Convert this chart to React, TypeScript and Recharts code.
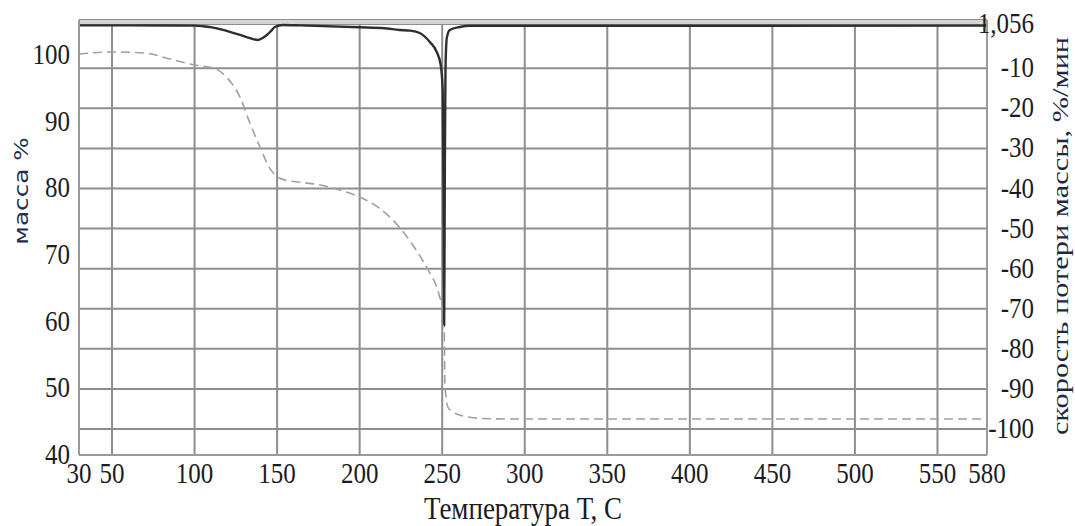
import React from "react";
import { ComposedChart, Line, XAxis, YAxis, CartesianGrid, ReferenceArea, Label } from "recharts";

// Temperature axis ticks (°C)
const tempTicks = [30, 50, 100, 150, 200, 250, 300, 350, 400, 450, 500, 550, 580];
// Left axis: mass %
const massTicks = [40, 50, 60, 70, 80, 90, 100];
// Right axis: rate of mass loss, %/min
const rateTicks = [1.056, -10, -20, -30, -40, -50, -60, -70, -80, -90, -100];

// Mass curve (dashed)
const massTemps = [30, 50, 70, 85, 100, 112, 120, 127.5, 133.5, 139.6, 145.6, 151.7, 158, 164, 176, 190, 200, 212, 224, 233, 242.5, 246.7, 248.5, 250.3, 251.2, 251.6, 252.4, 253.4, 256, 260.6, 266, 272.7, 290, 350, 450, 580];
const massValues = [100.15, 100.45, 100.3, 99.4, 98.5, 98.0, 96.5, 93.7, 89.8, 86.2, 83.0, 81.5, 81.1, 80.9, 80.5, 79.6, 78.7, 77.0, 74.2, 71.2, 67.3, 65.2, 63.7, 62.2, 59.5, 51, 48.5, 47.2, 46.5, 46.0, 45.7, 45.5, 45.4, 45.4, 45.4, 45.4];

// Rate of mass loss curve (solid)
const rateTemps = [30, 60, 100, 105, 110.5, 116, 121.4, 127, 133, 138.3, 141, 143.8, 146.5, 148.6, 153.5, 164, 200, 215, 224.3, 230.4, 236.4, 242.5, 246.7, 249.1, 250.3, 250.8, 251.2, 251.6, 252.0, 252.8, 254.6, 260.6, 266.7, 580];
const rateValues = [0.7, 0.7, 0.65, 0.5, 0.2, -0.3, -0.9, -1.6, -2.4, -2.94, -2.5, -1.7, -0.6, 0.3, 0.8, 0.7, 0.25, 0, -0.44, -0.6, -1.19, -3.43, -5.93, -9.17, -15.4, -40, -74, -35, -10, -2.4, -0.44, 0.3, 0.6, 0.65];

const massData = massTemps.map((t, i) => ({ t, mass: massValues[i] }));
const rateData = rateTemps.map((t, i) => ({ t, rate: rateValues[i] }));

const SERIF = "'Liberation Serif', 'Times New Roman', serif";
const TXT = "#1b1b24";
const STRETCH = 1.2;

const XTick = (props: any) => {
  const { x, y, payload } = props;
  return (
    <text transform={`translate(${x},${y + 20}) scale(1,${STRETCH})`} textAnchor="middle" fontFamily={SERIF} fontSize={25} fill={TXT}>
      {payload.value}
    </text>
  );
};

const LeftTick = (props: any) => {
  const { y, payload } = props;
  return (
    <text transform={`translate(70,${y + 9}) scale(1,${STRETCH})`} textAnchor="end" fontFamily={SERIF} fontSize={25} fill={TXT}>
      {payload.value}
    </text>
  );
};

const RightTick = (props: any) => {
  const { y, payload } = props;
  const label = payload.value === 1.056 ? "1,056" : String(payload.value);
  return (
    <text transform={`translate(1034,${y + 9}) scale(1,${STRETCH})`} textAnchor="end" fontFamily={SERIF} fontSize={25} fill={TXT}>
      {label}
    </text>
  );
};

const XTitle = (props: any) => {
  const vb = props.viewBox;
  return (
    <text transform={`translate(${vb.x + vb.width / 2 - 10},${vb.y + 64}) scale(1,${STRETCH})`} textAnchor="middle" fontFamily={SERIF} fontSize={27} fill={TXT}>
      Температура Т, С
    </text>
  );
};

const LeftTitle = () => (
  <text transform={`translate(22,191) scale(1,1.3) rotate(-90)`} textAnchor="middle" dominantBaseline="central" fontFamily="'DejaVu Sans', Verdana, sans-serif" fontSize={19} fill="#22304d">
    масса %
  </text>
);

const RightTitle = () => (
  <text transform={`translate(1060,236) scale(1,1.32) rotate(-90)`} textAnchor="middle" dominantBaseline="central" fontFamily={SERIF} fontSize={23} fill="#1e2640">
    скорость потери массы, %/мин
  </text>
);

export default function App() {
  return (
    <div style={{ position: "absolute", left: 0, top: 0, background: "#fff" }}>
      <ComposedChart width={1075} height={526} margin={{ top: 20, right: 0, bottom: 0, left: 0 }}>
        <ReferenceArea yAxisId="right" x1={30} x2={580} y1={1.056} y2={2.05} fill="#d6d6d6" fillOpacity={1} stroke="none" />
        <CartesianGrid yAxisId="right" stroke="#8e8e8e" strokeWidth={2} />
        <XAxis
          dataKey="t"
          type="number"
          domain={[30, 580]}
          ticks={tempTicks}
          allowDataOverflow
          height={71}
          tick={<XTick />}
          tickLine={false}
          axisLine={{ stroke: "#9a9a9a", strokeWidth: 2 }}
          interval={0}
        >
          <Label content={<XTitle />} />
        </XAxis>
        <YAxis
          yAxisId="left"
          orientation="left"
          type="number"
          domain={[40, 105.25]}
          ticks={massTicks}
          allowDataOverflow
          width={79}
          tick={<LeftTick />}
          tickLine={false}
          axisLine={{ stroke: "#9a9a9a", strokeWidth: 2 }}
          interval={0}
        >
          <Label content={<LeftTitle />} />
        </YAxis>
        <YAxis
          yAxisId="right"
          orientation="right"
          type="number"
          domain={[-106.5, 2.05]}
          ticks={rateTicks}
          allowDataOverflow
          width={88}
          tick={<RightTick />}
          tickLine={false}
          axisLine={{ stroke: "#9a9a9a", strokeWidth: 2 }}
          interval={0}
        >
          <Label content={<RightTitle />} />
        </YAxis>
        <Line
          yAxisId="left"
          data={massData}
          dataKey="mass"
          type="monotone"
          stroke="#a0a0a0"
          strokeWidth={1.6}
          strokeDasharray="9 5"
          dot={false}
          isAnimationActive={false}
        />
        <Line
          yAxisId="right"
          data={rateData}
          dataKey="rate"
          type="monotone"
          stroke="#2e2e2e"
          strokeWidth={2.4}
          dot={false}
          isAnimationActive={false}
        />
      </ComposedChart>
    </div>
  );
}
